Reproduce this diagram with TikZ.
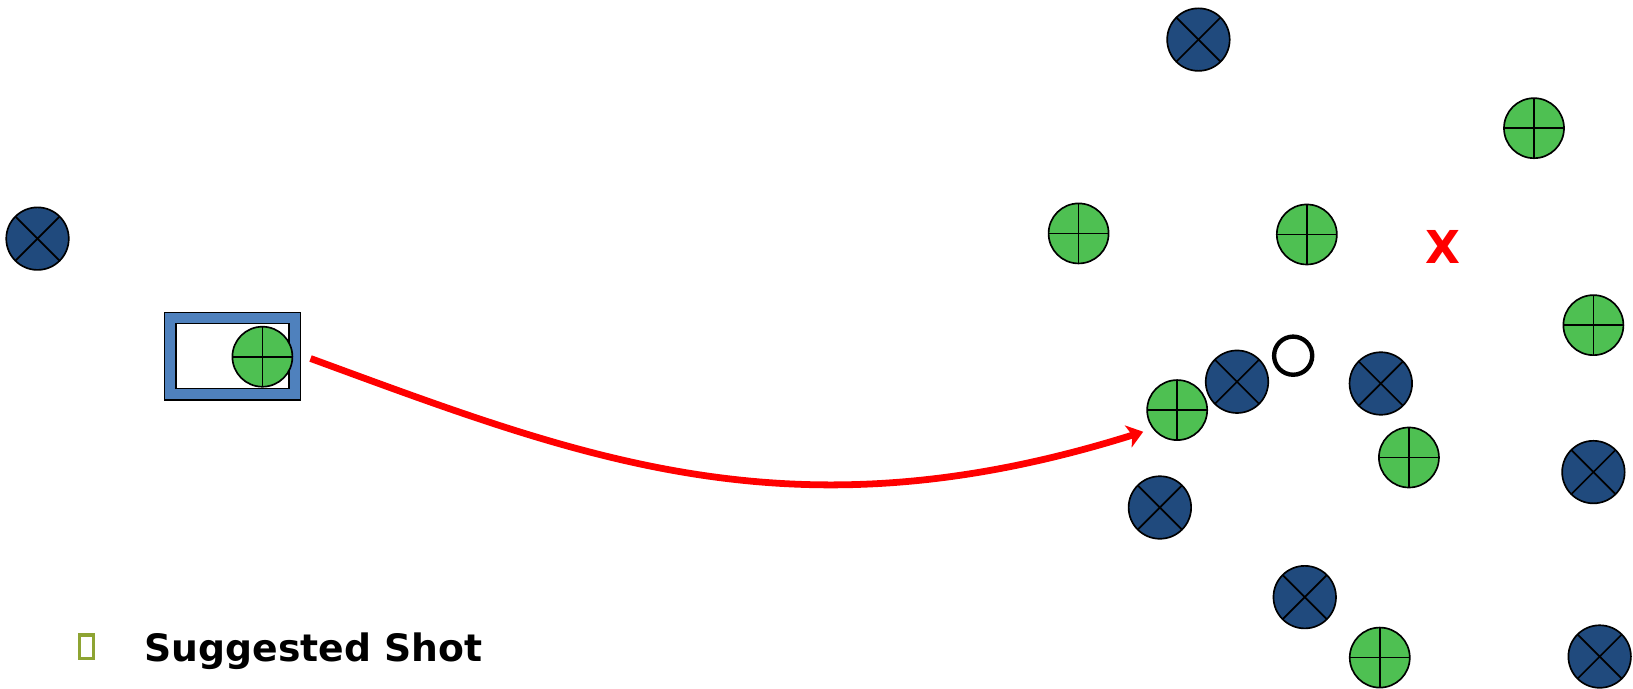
\documentclass[tikz,border=0pt]{standalone}
\usepackage{fontspec}
\newfontfamily\djv{DejaVu Sans}
\usetikzlibrary{arrows.meta}
\definecolor{pblue}{RGB}{32,74,125}
\definecolor{pgreen}{RGB}{78,192,82}
\definecolor{boxblue}{RGB}{79,129,189}
\definecolor{bulletgreen}{RGB}{142,164,51}
\tikzset{
  bx/.style={circle, draw=black, line width=1.6pt, fill=pblue, minimum size=60pt, inner sep=0pt,
    path picture={\draw[line width=1.6pt] (path picture bounding box.north west) -- (path picture bounding box.south east)
      (path picture bounding box.north east) -- (path picture bounding box.south west);}},
  gp/.style={circle, draw=black, line width=1.6pt, fill=pgreen, minimum size=57.6pt, inner sep=0pt,
    path picture={\draw[line width=1.6pt] (path picture bounding box.north) -- (path picture bounding box.south)
      (path picture bounding box.west) -- (path picture bounding box.east);}},
  shotline/.style={draw=red, line width=6.5pt, -{Stealth[length=15pt,width=22pt,inset=4pt]}},
}
\begin{document}
\begin{tikzpicture}[x=1pt,y=-1pt]
\useasboundingbox[fill=white] (0,0) rectangle (1567,660.2);
% cue-ball box
\node (outerbox) [rectangle, fill=boxblue, draw=black, line width=1.2pt, minimum width=130.3pt, minimum height=83.9pt, inner sep=0pt] at (223.15,341.95) {};
\node (innerbox) [rectangle, fill=white, draw=black, line width=1.2pt, minimum width=108.5pt, minimum height=62.7pt, inner sep=0pt] at (223.15,341.65) {};
\node (g0) [gp] at (251.8,342.3) {};
% blue balls
\node (b1) [bx] at (1150,38) {};
\node (b2) [bx] at (36,229) {};
\node (b3) [bx] at (1187,366.3) {};
\node (b4) [bx] at (1325,368) {};
\node (b5) [bx] at (1113,487) {};
\node (b6) [bx] at (1529,453) {};
\node (b7) [bx] at (1252,573) {};
\node (b8) [bx] at (1535,630) {};
% green balls
\node (g1) [gp] at (1472,123) {};
\node (g2) [gp] at (1035,224) {};
\node (g3) [gp] at (1254,225) {};
\node (g4) [gp] at (1529,312) {};
\node (g5) [gp] at (1129.6,393.5) {};
\node (g6) [gp] at (1352,439) {};
\node (g7) [gp] at (1324,631) {};
% ghost ball ring
\node (ring) [circle, draw=black, line width=4.2pt, minimum size=36.6pt, inner sep=0pt] at (1240.9,341.3) {};
% red X
\node (xmark) [anchor=base, inner sep=0pt, text=red, font=\djv\bfseries\fontsize{43.5}{43.5}\selectfont] at (1385,252.4) {X};
% shot path
\coordinate (shotstart) at (298,344);
\coordinate (shotend) at (1097,414.3);
\draw[shotline] (shotstart) .. controls (560,440) and (760,520) .. (shotend);
% legend
\node (bullet) [rectangle, draw=bulletgreen, line width=3.4pt, minimum width=13.5pt, minimum height=22.5pt, inner sep=0pt] at (83,620.5) {};
\node (legend) [anchor=base west, inner sep=0pt, font=\djv\bfseries\fontsize{36.2}{36.2}\selectfont] at (138.5,635) {Suggested Shot};
\end{tikzpicture}
\end{document}
